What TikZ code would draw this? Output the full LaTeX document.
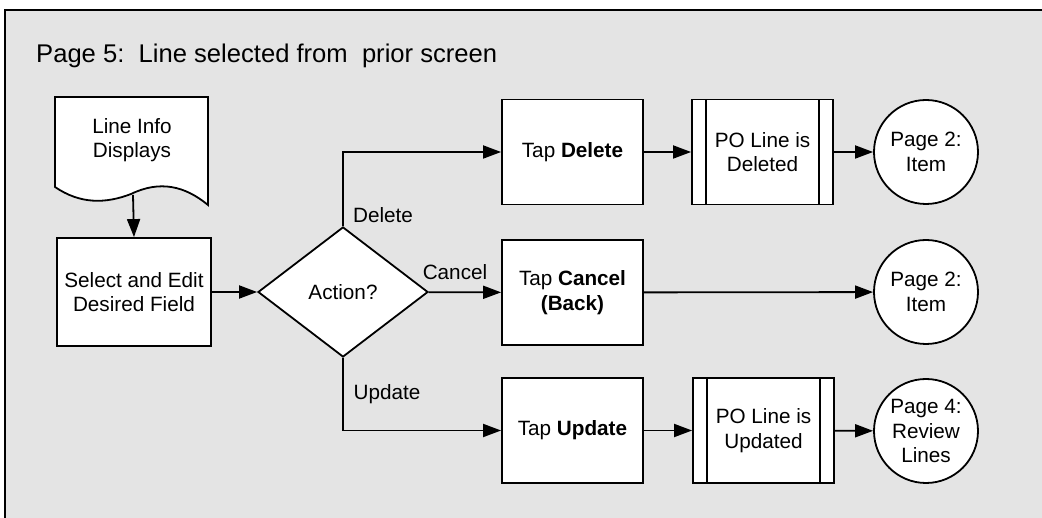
\documentclass[tikz,border=0pt]{standalone}
\usepackage{fontspec}
\setmainfont{Liberation Sans}
\usetikzlibrary{positioning, shapes.geometric, arrows.meta, calc}
\definecolor{panelgray}{HTML}{E4E4E4}

\tikzset{
  flow/.style={line width=1.8pt, -{Triangle[length=18pt,width=13pt]}},
  boxed/.style={draw, line width=1.8pt, fill=white, align=center, font=\fontsize{20.7}{24.5}\selectfont},
  stepbox/.style={boxed, rectangle, minimum width=141pt, minimum height=105pt},
  predef/.style={stepbox, path picture={
      \draw[line width=1.8pt] ([xshift=14pt]path picture bounding box.north west) -- ([xshift=14pt]path picture bounding box.south west)
        ([xshift=-14pt]path picture bounding box.north east) -- ([xshift=-14pt]path picture bounding box.south east);}},
  pageref/.style={boxed, circle, minimum size=104pt, inner sep=0pt},
  choice/.style={boxed, diamond, minimum width=170pt, minimum height=130pt, inner sep=0pt},
  lbl/.style={font=\fontsize{20.7}{24.5}\selectfont, inner sep=0pt},
}

\begin{document}
\begin{tikzpicture}[x=1pt,y=-1pt]
    \useasboundingbox (0,0) rectangle (1042,518);
    \fill[panelgray] (5,10) rectangle (1042,518);
    \draw[line width=2pt] (5,518) -- (5,10) -- (1042,10);
    \node[anchor=base west, inner sep=0pt, font=\fontsize{25.6}{30}\selectfont] (title) at (36,63) {Page 5:\ \ Line selected from\ \ prior screen};

    % document shape
    \draw[line width=1.8pt, fill=white] (55,187) -- (55,97) -- (208,97) -- (208,205)
        .. controls (185,186) and (160,180) .. (131,194)
        .. controls (105,204) and (80,204) .. (55,187) -- cycle;
    \node[lbl, align=center] (info) at (132,140) {Line Info\\Displays};
    \coordinate (docout) at (133,195);

    \node[boxed, minimum width=154pt, minimum height=108pt] (sel) at (134,292) {Select and Edit\\Desired Field};
    \node[choice] (act) at (343,292) {Action?};

    \node[stepbox] (tapdel) at (572.5,152) {Tap \textbf{Delete}};
    \node[stepbox] (tapcan) at (572.5,292.5) {Tap \textbf{Cancel}\\\textbf{(Back)}};
    \node[stepbox] (tapupd) at (572.5,430.5) {Tap \textbf{Update}};

    \node[predef] (podel) at (762.5,152) {PO Line is\\Deleted};
    \node[predef] (poupd) at (763.5,430.5) {PO Line is\\Updated};

    \node[pageref] (pgdel) at (926,152) {Page 2:\\Item};
    \node[pageref] (pgcan) at (926,292) {Page 2:\\Item};
    \node[pageref] (pgupd) at (926,431) {Page 4:\\Review\\Lines};

    \node[lbl] (ldel) at (383,215) {Delete};
    \node[lbl] (lcan) at (455,272) {Cancel};
    \node[lbl] (lupd) at (387,394) {Update};

    \draw[flow] (docout) -- (sel.north);
    \draw[flow] (sel) -- (act);
    \draw[flow] (act.north) |- (tapdel);
    \draw[flow] (act) -- (tapcan);
    \draw[flow] (act.south) |- (tapupd);
    \draw[flow] (tapdel) -- (podel);
    \draw[flow] (podel) -- (pgdel);
    \draw[flow] (tapcan) -- (pgcan);
    \draw[flow] (tapupd) -- (poupd);
    \draw[flow] (poupd) -- (pgupd);
\end{tikzpicture}
\end{document}
